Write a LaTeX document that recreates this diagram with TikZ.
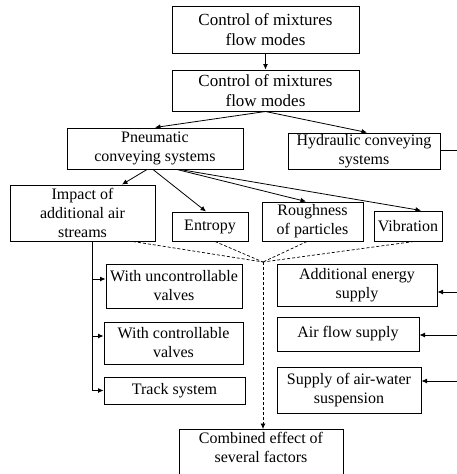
\documentclass[tikz,border=0pt]{standalone}
\usepackage{fontspec}
\setmainfont{Liberation Serif}
\usetikzlibrary{arrows.meta,calc}
\begin{document}
\begin{tikzpicture}[x=1pt,y=-1pt,
  box/.style={draw, line width=1pt, align=center, inner sep=0pt, font=\fontsize{16}{19}\selectfont},
  bigbox/.style={box, font=\fontsize{17}{20.5}\selectfont},
  txt/.style={align=center, inner sep=0pt, font=\fontsize{16}{19}\selectfont},
  arr/.style={line width=0.8pt, -{Latex[length=5.5pt,width=5pt]}},
  conn/.style={line width=0.8pt},
  dsh/.style={line width=0.7pt, dash pattern=on 3pt off 2pt}]
\useasboundingbox (0,0) rectangle (456,474);

% nodes
\node[bigbox, minimum width=187, minimum height=47] (top) at (265.5,29.5) {Control of mixtures\\flow modes};
\node[bigbox, minimum width=187, minimum height=41] (b2) at (265.5,90.5) {Control of mixtures\\flow modes};
\node[box, minimum width=176, minimum height=41] (pn) at (155,148.5) {Pneumatic\\conveying systems};
\node[box, minimum width=152, minimum height=36] (hy) at (364,151) {Hydraulic conveying\\systems};
\node[box, minimum width=145, minimum height=56] (imp) at (82.5,213) {Impact of\\additional air\\streams};
\node[box, minimum width=76, minimum height=29] (en) at (210,226.5) {Entropy};
\node[box, minimum width=101, minimum height=39] (ro) at (312.5,221.5) {Roughness\\of particles};
\node[box, minimum width=68, minimum height=30] (vib) at (408,226) {Vibration};
\node[box, minimum width=136, minimum height=44] (unc) at (174,286) {With uncontrollable\\valves};
\node[box, minimum width=139, minimum height=42] (ctl) at (173.5,343) {With controllable\\valves};
\node[box, minimum width=141, minimum height=27] (trk) at (174.5,390.5) {Track system};
\node[box, minimum width=160, minimum height=42] (ene) at (357,285) {Additional energy\\supply};
\node[box, minimum width=142, minimum height=34] (air) at (348,334) {Air flow supply};
\node[box, minimum width=144, minimum height=46] (aw) at (349,390) {Supply of air-water\\suspension};
\node[box, minimum width=164, minimum height=52, anchor=north] (comb) at (261,429) {};
\node[txt, anchor=north] (combt) at ([yshift=-3pt]comb.north) {Combined effect of\\several factors};

% coordinates
\coordinate (m) at (263,262);
\coordinate (hyr) at (470,150);
\coordinate (r1) at (470,292);
\coordinate (r2) at (470,335);
\coordinate (r3) at (470,381);
\coordinate (l1) at (92,279);
\coordinate (l2) at (92,336);

% connectors
\draw[arr] (top.south) -- (b2.north);
\draw[arr] (b2.south) -- (pn.north);
\draw[arr] (b2.south) -- ([xshift=3pt]hy.north);
\draw[arr] ([xshift=-8pt]pn.south) -- ([xshift=39.5pt]imp.north);
\draw[arr] ([xshift=-2pt]pn.south) -- ([xshift=-4pt]en.north);
\draw[arr] ([xshift=22pt]pn.south) -- ([xshift=-6.5pt]ro.north);
\draw[arr] ([xshift=25pt]pn.south) -- ([xshift=13pt]vib.north);
\draw[conn] (hy.east |- hyr) -- (hyr);

\draw[dsh] ([xshift=50.5pt]imp.south) -- (m);
\draw[dsh] ([xshift=5pt]en.south) -- (m);
\draw[dsh] ([xshift=-5.5pt]ro.south) -- (m);
\draw[dsh] ([xshift=6pt]vib.south) -- (m);
\draw[dsh, -{Latex[length=5.5pt,width=5pt]}] (m) -- (m |- comb.north);

\draw[arr] ([xshift=9.5pt]imp.south) |- (trk.west);
\draw[arr] (l1) -- (l1 -| unc.west);
\draw[arr] (l2) -- (l2 -| ctl.west);

\draw[arr] (r1) -- (r1 -| ene.east);
\draw[arr] (r2) -- (r2 -| air.east);
\draw[arr] (r3) -- (r3 -| aw.east);
\end{tikzpicture}
\end{document}
